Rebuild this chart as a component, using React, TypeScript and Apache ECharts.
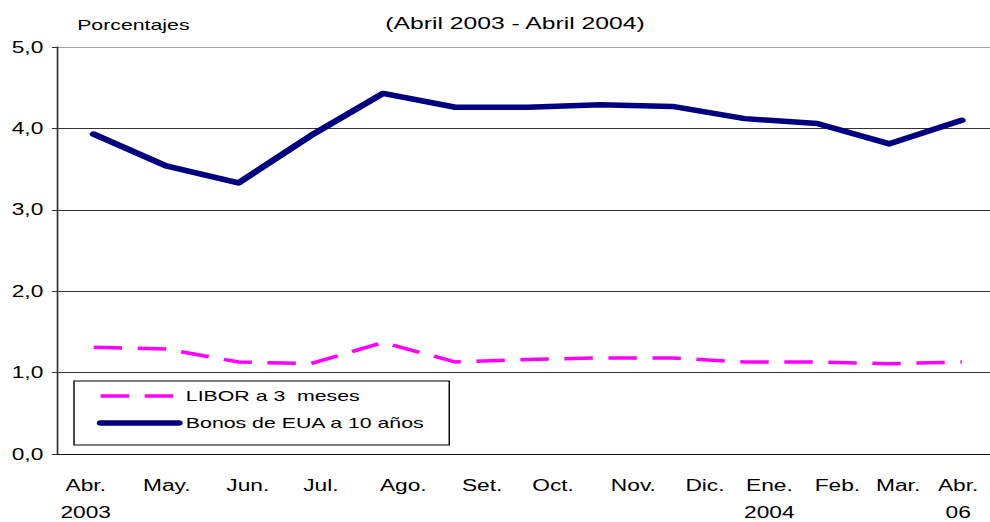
import { useEffect, useRef } from "react";
import * as echarts from "echarts";

// Chart is laid out at an unscaled width, then stretched horizontally (the reference is stretched).
const W = 697;
const H = 522;
const SX = 990 / W;

const FONT = '"Liberation Sans", Arial, Helvetica, sans-serif';

const titleText = "(Abril 2003 - Abril 2004)";
const unitText = "Porcentajes";

const seriesNames = ["LIBOR a 3  meses", "Bonos de EUA a 10 años"];

// Monthly observations, Abr. 2003 .. Abr. 2004 (13 points)
const liborValues = [1.31, 1.29, 1.13, 1.11, 1.37, 1.13, 1.16, 1.18, 1.18, 1.13, 1.13, 1.11, 1.13];
const bonosValues = [3.93, 3.54, 3.33, 3.91, 4.43, 4.26, 4.26, 4.29, 4.27, 4.12, 4.06, 3.81, 4.1];

// Category tick labels and where they sit along the axis (in observation units)
const axisLabels = [
  "Abr.\n2003", "May.", "Jun.", "Jul.", "Ago.", "Set.", "Oct.",
  "Nov.", "Dic.", "Ene.\n2004", "Feb.", "Mar.", "Abr.\n06",
];
const axisLabelPos = [-0.11, 1.01, 2.13, 3.14, 4.28, 5.37, 6.35, 7.46, 8.45, 9.34, 10.28, 11.12, 11.95];

const yMin = 0;
const yMax = 5;
const yStep = 1;

export default function App() {
  const ref = useRef<HTMLDivElement>(null);

  useEffect(() => {
    if (!ref.current) return;
    const chart = echarts.init(ref.current, undefined, { renderer: "svg" });

    const option: any = {
      animation: false,
      backgroundColor: "#ffffff",
      textStyle: { fontFamily: FONT },
      grid: {
        left: 40.5,
        right: 0,
        top: 47,
        bottom: H - 454,
        containLabel: false,
        outerBoundsMode: "none",
      },
      graphic: [
        {
          type: "text",
          x: 54.3,
          y: 25,
          style: {
            text: unitText,
            fontSize: 15,
            fontFamily: FONT,
            fill: "#000",
            align: "left",
            verticalAlign: "middle",
          },
        },
        {
          type: "text",
          x: 362.6,
          y: 23,
          style: {
            text: titleText,
            fontSize: 17.4,
            fontFamily: FONT,
            fill: "#000",
            align: "center",
            verticalAlign: "middle",
          },
        },
      ],
      legend: {
        orient: "vertical",
        left: 52.1,
        top: 381,
        backgroundColor: "#ffffff",
        borderColor: "#000000",
        borderWidth: 1,
        padding: [6, 17, 13, 16],
        itemGap: 9,
        itemWidth: 55,
        itemHeight: 14,
        itemStyle: { opacity: 0, borderWidth: 0 },
        textStyle: { fontSize: 15, fontFamily: FONT, color: "#000", lineHeight: 18 },
        data: [
          { name: seriesNames[0], lineStyle: { width: 3.5 } },
          { name: seriesNames[1], lineStyle: { width: 5.5 } },
        ],
      },
      xAxis: {
        type: "value",
        min: -0.5,
        max: 12.39,
        axisLine: { show: true, onZero: false, lineStyle: { color: "#1a1a1a", width: 1 } },
        axisTick: { show: false },
        splitLine: { show: false },
        axisLabel: {
          customValues: axisLabelPos,
          color: "#000",
          fontSize: 16,
          fontFamily: FONT,
          lineHeight: 27,
          margin: 18,
          formatter: (v: number) => {
            const i = axisLabelPos.findIndex((p) => Math.abs(p - v) < 1e-6);
            return i >= 0 ? axisLabels[i] : "";
          },
        },
      },
      yAxis: {
        type: "value",
        min: yMin,
        max: yMax,
        interval: yStep,
        axisLine: { show: true, onZero: false, lineStyle: { color: "#333", width: 1.2 } },
        axisTick: { show: true, inside: false, length: 4, lineStyle: { color: "#333" } },
        splitLine: {
          show: true,
          lineStyle: { color: ["#222", "#333", "#333", "#333", "#333", "#a0a0a0"], width: 1 },
        },
        axisLabel: {
          color: "#000",
          fontSize: 16,
          fontFamily: FONT,
          margin: 10,
          formatter: (v: number) => v.toFixed(1).replace(".", ","),
        },
      },
      series: [
        {
          name: seriesNames[0],
          type: "line",
          symbol: "none",
          data: liborValues.map((v, i) => [i, v]),
          lineStyle: { color: "#ff00ff", width: 3.5, type: [20, 11], cap: "butt", join: "miter" },
          itemStyle: { color: "#ff00ff" },
          z: 3,
        },
        {
          name: seriesNames[1],
          type: "line",
          symbol: "none",
          data: bonosValues.map((v, i) => [i, v]),
          lineStyle: { color: "#000080", width: 5.5, type: "solid", cap: "round", join: "round" },
          itemStyle: { color: "#000080" },
          z: 4,
        },
      ],
    };

    chart.setOption(option);
    return () => chart.dispose();
  }, []);

  return (
    <div
      ref={ref}
      style={{
        position: "fixed",
        left: 0,
        top: 0,
        width: W,
        height: H,
        transform: `scaleX(${SX})`,
        transformOrigin: "0 0",
        background: "#fff",
      }}
    />
  );
}
